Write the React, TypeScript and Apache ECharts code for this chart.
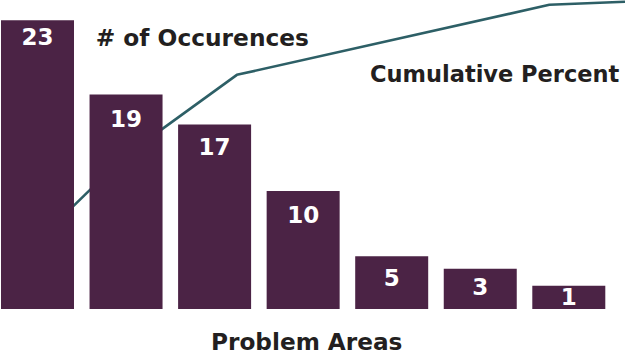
import React, { useEffect, useRef } from "react";
import * as echarts from "echarts";

// Problem areas (unlabelled in the reference)
const categories = ["Area 1", "Area 2", "Area 3", "Area 4", "Area 5", "Area 6", "Area 7"];
// Numbers printed on the bars
const occurrences = [23, 19, 17, 10, 5, 3, 1];
// Bar heights as drawn in the picture (same units as occurrences)
const barHeights = [23, 17.1, 14.7, 9.4, 4.2, 3.2, 1.86];
// Cumulative percent line, as drawn (x: % of chart width, y: %)
const cumulativeX = [6.0, 19.8, 37.9, 87.9, 100];
const cumulativePercent = [22.1, 49.5, 76.2, 99.0, 100];

const labelGap = [5, 13, 11, 12, 10, 7, 0];

const BAR = "#4b2345";
const TEAL = "#2d5f66";
const INK = "#231f20";
const FONT = "DejaVu Sans";

export default function App() {
  const ref = useRef<HTMLDivElement>(null);
  useEffect(() => {
    if (!ref.current) return;
    const chart = echarts.init(ref.current, undefined, { renderer: "svg" });
    chart.setOption({
      animation: false,
      backgroundColor: "#ffffff",
      grid: [
        { left: 37.5, right: 56.2, top: 7.8, bottom: 45 },
        { left: 0, right: 0, top: 1.7, bottom: 45 },
      ],
      xAxis: [
        { type: "category", gridIndex: 0, data: categories, boundaryGap: false, show: false },
        { type: "value", gridIndex: 1, min: 0, max: 100, show: false },
      ],
      yAxis: [
        { type: "value", gridIndex: 0, min: 0, max: 24, show: false },
        { type: "value", gridIndex: 1, min: 0, max: 100, show: false },
      ],
      series: [
        {
          type: "line",
          xAxisIndex: 1,
          yAxisIndex: 1,
          z: 1,
          symbol: "none",
          clip: false,
          lineStyle: { color: TEAL, width: 2.6 },
          data: cumulativeX.map((x, i) => [x, cumulativePercent[i]]),
        },
        {
          type: "bar",
          xAxisIndex: 0,
          yAxisIndex: 0,
          z: 2,
          clip: false,
          barWidth: 73,
          itemStyle: { color: BAR },
          label: {
            show: true,
            position: "insideTop",
            color: "#ffffff",
            fontFamily: FONT,
            fontWeight: "bold",
            fontSize: 23,
            formatter: (p: any) => String(occurrences[p.dataIndex]),
          },
          data: barHeights.map((v, i) => ({ value: v, label: { distance: labelGap[i] } })),
        },
      ],
      graphic: [
        {
          type: "text",
          left: 95.7,
          top: 26,
          style: { text: "# of Occurences", fill: INK, font: `bold 23.3px "${FONT}"` },
        },
        {
          type: "text",
          left: 370,
          top: 62.5,
          style: { text: "Cumulative Percent", fill: INK, font: `bold 22.5px "${FONT}"` },
        },
        {
          type: "text",
          left: 211,
          top: 329.5,
          style: { text: "Problem Areas", fill: INK, font: `bold 23.2px "${FONT}"` },
        },
      ],
    });
    return () => chart.dispose();
  }, []);
  return (
    <div
      ref={ref}
      style={{ position: "fixed", left: 0, top: 0, width: 625, height: 354 }}
    />
  );
}
